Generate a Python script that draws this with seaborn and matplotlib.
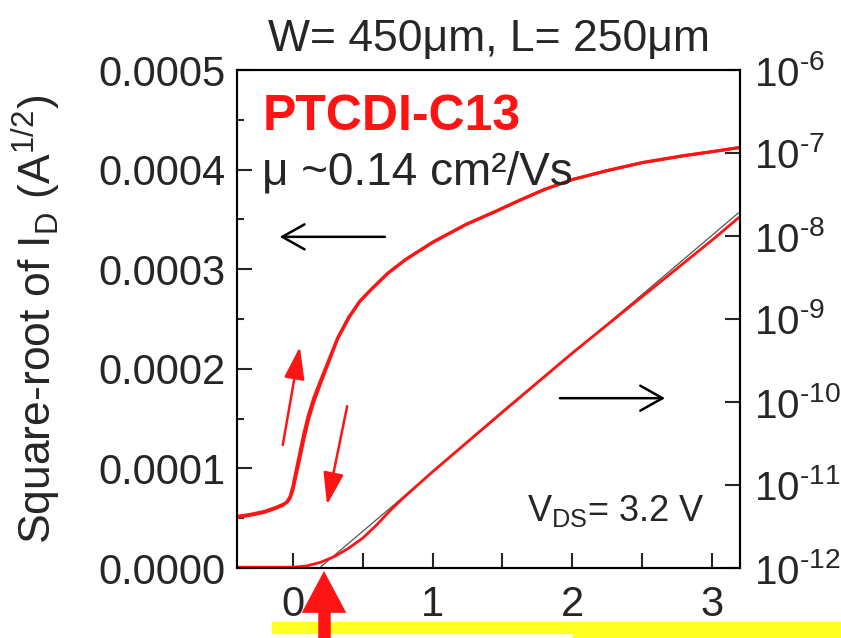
import matplotlib
matplotlib.use("Agg")
import matplotlib.pyplot as plt
import matplotlib.ticker as mticker
from matplotlib.patches import Rectangle
import numpy as np
import seaborn as sns

#%% data
# transfer curve, sqrt(I_D) in units of 1e-4 A^1/2 (left axis)
vg_sqrt = [-0.39, -0.30, -0.20, -0.12, -0.07, -0.04, -0.02, 0.00, 0.02, 0.05,
           0.08, 0.11, 0.15, 0.20, 0.26, 0.32, 0.40, 0.48, 0.57, 0.68,
           0.81, 1.00, 1.24, 1.45, 1.62, 1.80, 2.00, 2.25, 2.50, 2.80,
           3.00, 3.19]
sqrt_fwd = [0.51, 0.53, 0.56, 0.60, 0.63, 0.67, 0.72, 0.82, 0.96, 1.16,
            1.36, 1.53, 1.71, 1.89, 2.10, 2.31, 2.52, 2.68, 2.81, 2.96,
            3.10, 3.27, 3.45, 3.58, 3.69, 3.80, 3.90, 3.99, 4.07, 4.14,
            4.18, 4.22]
sqrt_rev = [0.52, 0.54, 0.57, 0.61, 0.64, 0.66, 0.70, 0.78, 0.91, 1.10,
            1.30, 1.48, 1.67, 1.86, 2.08, 2.30, 2.51, 2.68, 2.81, 2.96,
            3.10, 3.27, 3.45, 3.58, 3.69, 3.80, 3.90, 3.99, 4.07, 4.14,
            4.18, 4.22]

# log10(I_D) (right axis)
vg_log = [-0.39, 0.00, 0.10, 0.20, 0.30, 0.40, 0.50, 0.60, 0.70, 0.80,
          0.90, 1.00, 1.50, 2.00, 2.50, 3.00, 3.19]
logid = [-11.99, -11.99, -11.975, -11.93, -11.86, -11.76, -11.64, -11.48,
         -11.30, -11.14, -10.99, -10.84, -10.12, -9.41, -8.73, -8.05, -7.78]

# linear fit / extrapolation
vg_fit = [0.19, 3.19]
log_fit = [-12.0, -7.72]

right_ticks = [-12, -11, -10, -9, -8, -7, -6]

red = "#ff1414"

#%% plot
sns.set_style("ticks")
plt.rcParams["font.family"] = ["Liberation Sans", "DejaVu Sans"]
plt.rcParams["mathtext.fontset"] = "custom"
plt.rcParams["mathtext.rm"] = "Liberation Sans"
plt.rcParams["mathtext.it"] = "Liberation Sans:italic"

fig = plt.figure(figsize=(8.41, 6.38), dpi=100)
ax = fig.add_axes([237/841, 1-568/638, 503/841, 498/638])
ax2 = ax.twinx()

sns.lineplot(x=vg_sqrt, y=np.array(sqrt_fwd)*1e-4, ax=ax, color=red, lw=2.2)
sns.lineplot(x=vg_sqrt, y=np.array(sqrt_rev)*1e-4, ax=ax, color=red, lw=2.2)
sns.lineplot(x=vg_fit, y=10**np.array(log_fit), ax=ax2, color="#555555", lw=0.9)
sns.lineplot(x=vg_log, y=10**np.array(logid), ax=ax2, color=red, lw=2.0)

ax.set_xlim(-0.4, 3.2)
ax.set_ylim(0, 0.0005)
ax2.set_yscale("log")
ax2.set_ylim(1e-12, 1e-6)

ax.xaxis.set_major_locator(mticker.MultipleLocator(1))
ax.xaxis.set_minor_locator(mticker.MultipleLocator(0.5))
ax.yaxis.set_major_locator(mticker.MultipleLocator(0.0001))
ax.yaxis.set_minor_locator(mticker.MultipleLocator(0.00005))
ax.yaxis.set_major_formatter(mticker.FormatStrFormatter("%.4f"))
ax2.yaxis.set_major_locator(mticker.FixedLocator([10.0**e for e in right_ticks]))
ax2.yaxis.set_minor_locator(mticker.NullLocator())
ax2.yaxis.set_major_formatter(mticker.FuncFormatter(
    lambda v, p: r"10$^{\text{-%d}}$" % round(-np.log10(v))))

ax.tick_params(axis="both", which="both", direction="in", width=1.5,
               labelsize=30, top=False, right=False)
ax.tick_params(axis="y", which="major", length=11, pad=8)
ax.tick_params(axis="y", which="minor", length=5)
ax.tick_params(axis="x", which="both", length=11, pad=12)
ax2.tick_params(axis="y", which="major", direction="in", length=11, width=1.5,
                labelsize=29, pad=10)

for a in (ax, ax2):
    for s in a.spines.values():
        s.set_linewidth(1.5)
        s.set_color("black")
        s.set_visible(True)

ax.set_ylabel(r"Square-root of I$_\mathrm{D}$ (A$^{1/2}$)", fontsize=32)
ax.yaxis.set_label_coords(-0.345, 0.5)
ax.set_title("W= 450μm, L= 250μm", fontsize=32, pad=14)

ax.text(0.05, 0.88, "PTCDI-C13", transform=ax.transAxes, color=red,
        fontsize=36, fontweight="bold")
ax.text(0.05, 0.77, "μ ~0.14 cm²/Vs", transform=ax.transAxes,
        fontsize=33)
ax.text(0.577, 0.094, r"V$_\mathrm{DS}$= 3.2 V", transform=ax.transAxes,
        fontsize=26)

# direction arrows
blk = dict(arrowstyle="->,head_length=0.8,head_width=0.45", color="black",
           lw=1.8, mutation_scale=20, shrinkA=0, shrinkB=0)
ax.annotate("", xy=(0.085, 0.665), xytext=(0.294, 0.665),
            xycoords="axes fraction", arrowprops=blk)
ax.annotate("", xy=(0.851, 0.341), xytext=(0.642, 0.341),
            xycoords="axes fraction", arrowprops=blk)
rarr = dict(arrowstyle="-|>,head_length=1.1,head_width=0.35", color=red,
            lw=1.8, mutation_scale=18, shrinkA=0, shrinkB=0)
ax.annotate("", xy=(0.125, 0.444), xytext=(0.091, 0.247),
            xycoords="axes fraction", arrowprops=rarr)
ax.annotate("", xy=(0.179, 0.127), xytext=(0.219, 0.325),
            xycoords="axes fraction", arrowprops=rarr)

# yellow highlight bars and the threshold arrow
fig.add_artist(Rectangle((272/841, 1-633/638), (573-272)/841, 11/638,
                         transform=fig.transFigure, color="#ffff22", zorder=1))
fig.add_artist(Rectangle((573/841, 0), 1-573/841, 16/638,
                         transform=fig.transFigure, color="#ffff22", zorder=1))
fig.add_artist(plt.Line2D([324/841]*2, [0, 1-598/638], transform=fig.transFigure,
                          color=red, lw=9, solid_capstyle="butt", zorder=3))
ax.annotate("", xy=(324/841, 1-571/638), xytext=(324/841, 1-600/638),
            xycoords="figure fraction", annotation_clip=False,
            arrowprops=dict(arrowstyle="-|>,head_length=1.5,head_width=0.8",
                            color=red, lw=0.1, mutation_scale=20,
                            shrinkA=0, shrinkB=0))

fig.savefig("out.png", dpi=100)
